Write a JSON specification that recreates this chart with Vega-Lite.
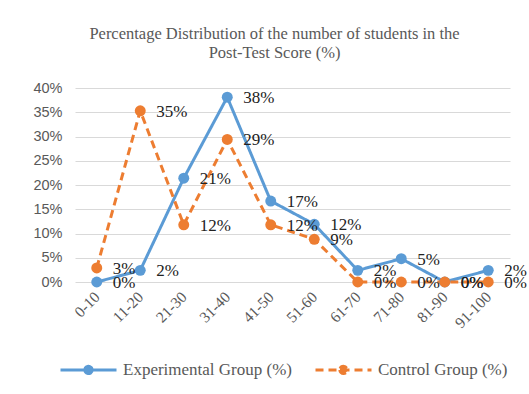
{
  "$schema": "https://vega.github.io/schema/vega-lite/v6.json",
  "width": 435,
  "height": 194,
  "autosize": {"type": "none"},
  "padding": {"left": 75, "top": 88, "right": 19, "bottom": 112},
  "background": "white",
  "title": {
    "text": ["Percentage Distribution of the number of students in the", "Post-Test Score (%)"],
    "font": "Liberation Serif",
    "fontSize": 16.5,
    "fontWeight": "normal",
    "color": "#595959",
    "anchor": "middle",
    "dx": -18,
    "offset": 19,
    "lineHeight": 19
  },
  "config": {
    "view": {"stroke": null},
    "font": "Liberation Serif"
  },
  "data": {
    "values": [
      {"range": "0-10", "group": "Experimental Group (%)", "value": 0.0},
      {"range": "11-20", "group": "Experimental Group (%)", "value": 0.024},
      {"range": "21-30", "group": "Experimental Group (%)", "value": 0.214},
      {"range": "31-40", "group": "Experimental Group (%)", "value": 0.381},
      {"range": "41-50", "group": "Experimental Group (%)", "value": 0.167},
      {"range": "51-60", "group": "Experimental Group (%)", "value": 0.119},
      {"range": "61-70", "group": "Experimental Group (%)", "value": 0.024},
      {"range": "71-80", "group": "Experimental Group (%)", "value": 0.048},
      {"range": "81-90", "group": "Experimental Group (%)", "value": 0.0},
      {"range": "91-100", "group": "Experimental Group (%)", "value": 0.024},
      {"range": "0-10", "group": "Control Group (%)", "value": 0.029},
      {"range": "11-20", "group": "Control Group (%)", "value": 0.353},
      {"range": "21-30", "group": "Control Group (%)", "value": 0.118},
      {"range": "31-40", "group": "Control Group (%)", "value": 0.294},
      {"range": "41-50", "group": "Control Group (%)", "value": 0.118},
      {"range": "51-60", "group": "Control Group (%)", "value": 0.088},
      {"range": "61-70", "group": "Control Group (%)", "value": 0.0},
      {"range": "71-80", "group": "Control Group (%)", "value": 0.0},
      {"range": "81-90", "group": "Control Group (%)", "value": 0.0},
      {"range": "91-100", "group": "Control Group (%)", "value": 0.0}
    ]
  },
  "encoding": {
    "x": {
      "field": "range",
      "type": "nominal",
      "sort": null,
      "scale": {"type": "point", "padding": 0.5},
      "axis": {
        "title": null,
        "labelAngle": -45,
        "labelAlign": "right",
        "labelBaseline": "middle",
        "labelFont": "Liberation Serif",
        "labelFontSize": 15.5,
        "labelColor": "#595959",
        "labelPadding": 12,
        "domain": false,
        "ticks": false,
        "grid": false
      }
    },
    "y": {
      "field": "value",
      "type": "quantitative",
      "scale": {"domain": [0, 0.4]},
      "axis": {
        "title": null,
        "values": [0, 0.05, 0.1, 0.15, 0.2, 0.25, 0.3, 0.35, 0.4],
        "format": ".0%",
        "labelFont": "Liberation Sans",
        "labelFontSize": 14.5,
        "labelColor": "#595959",
        "labelPadding": 13,
        "domain": false,
        "ticks": false,
        "gridColor": "#d9d9d9",
        "gridWidth": 1
      }
    }
  },
  "layer": [
    {
      "mark": {"type": "line", "strokeWidth": 3},
      "encoding": {
        "color": {
          "field": "group",
          "type": "nominal",
          "scale": {"domain": ["Experimental Group (%)", "Control Group (%)"], "range": ["#5B9BD5", "#ED7D31"]},
          "legend": {
            "title": null,
            "orient": "none",
            "legendX": -16,
            "legendY": 252,
            "direction": "horizontal",
            "symbolType": "M-1,0H1M-0.13,0A0.13,0.13 0 1,0 0.13,0A0.13,0.13 0 1,0 -0.13,0Z",
            "symbolSize": 3136,
            "symbolStrokeWidth": 3,
            "labelFont": "Liberation Serif",
            "labelFontSize": 17,
            "labelColor": "#595959",
            "labelOffset": 5,
            "columnPadding": 17,
            "labelLimit": 300
          }
        },
        "strokeDash": {
          "field": "group",
          "type": "nominal",
          "scale": {"domain": ["Experimental Group (%)", "Control Group (%)"], "range": [[1, 0], [8, 5]]},
          "legend": null
        }
      }
    },
    {
      "mark": {"type": "point", "filled": true, "size": 120, "opacity": 1},
      "encoding": {
        "color": {"field": "group", "type": "nominal", "legend": null}
      }
    },
    {
      "mark": {"type": "text", "align": "left", "dx": 16, "dy": 1, "fontSize": 17, "font": "Liberation Serif", "color": "#222222"},
      "encoding": {
        "text": {"field": "value", "type": "quantitative", "format": ".0%"}
      }
    }
  ]
}
